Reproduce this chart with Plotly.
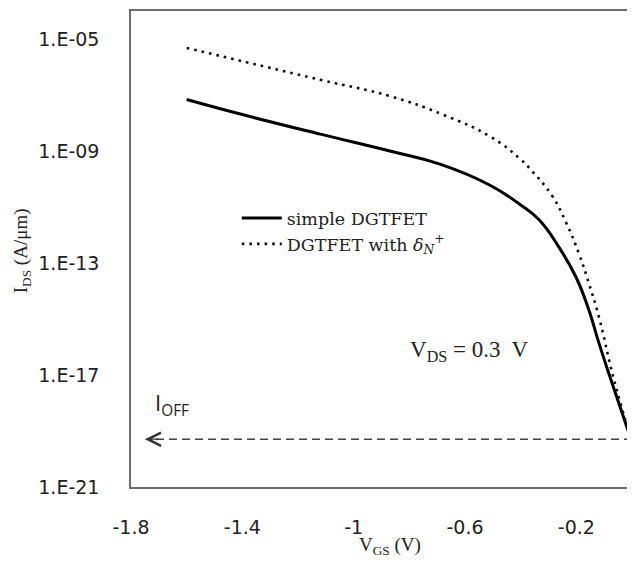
import math
import plotly.graph_objects as go

# ---- data ----
vgs_simple = [-1.6, -1.4, -1.12, -0.87, -0.69, -0.51, -0.406, -0.334, -0.262,
              -0.201, -0.155, -0.119, -0.076, 0.0]
ids_simple = [6.9e-8, 2.0e-8, 4.0e-9, 1.0e-9, 3.4e-10, 6.0e-11, 1.3e-11,
              3.5e-12, 3.6e-13, 3.1e-14, 2.1e-15, 1.4e-16, 6.9e-18, 4.0e-20]

vgs_delta = [-1.6, -1.12, -0.87, -0.68, -0.51, -0.40, -0.359, -0.287, -0.237, -0.191,
             -0.155, -0.119, -0.065, 0.0]
ids_delta = [4.8e-6, 3.5e-7, 9.1e-8, 2.0e-8, 3.3e-9, 5.0e-10, 1.9e-10, 2.5e-11,
             2.8e-12, 2.2e-13, 1.9e-14, 1.2e-15, 6.9e-18, 4.0e-20]

ioff_level = 5.1e-20
ioff_x = [0.0, -1.745]

x_tickvals = [-1.8, -1.4, -1.0, -0.6, -0.2]
x_ticktext = ["-1.8", "-1.4", "-1", "-0.6", "-0.2"]
y_tickvals = [1e-21, 1e-17, 1e-13, 1e-9, 1e-5]
y_ticktext = ["1.E-21", "1.E-17", "1.E-13", "1.E-09", "1.E-05"]

serif = "DejaVu Serif"
serif2 = "Liberation Serif"
sans = "DejaVu Sans"

fig = go.Figure()
fig.add_trace(go.Scatter(
    x=vgs_simple, y=ids_simple, mode="lines", name="simple DGTFET",
    line=dict(color="black", width=3, shape="spline", smoothing=1.3)))
fig.add_trace(go.Scatter(
    x=vgs_delta, y=ids_delta, mode="lines",
    name="DGTFET with <i>δ</i><sub><i>N</i></sub><sup>+</sup>",
    line=dict(color="#111111", width=2.6, dash="2.6px,5px", shape="spline", smoothing=1.3)))
fig.add_trace(go.Scatter(
    x=ioff_x, y=[ioff_level, ioff_level], mode="lines", showlegend=False,
    line=dict(color="#444444", width=1.5, dash="8px,5px")))

ly = math.log10(ioff_level)
fig.add_annotation(x=ioff_x[1] - 0.005, y=ly, ax=ioff_x[1] + 0.05, ay=ly,
                   xref="x", yref="y", axref="x", ayref="y", text="",
                   showarrow=True, arrowhead=5, arrowsize=2.0, arrowwidth=1.3,
                   arrowcolor="#333333", standoff=0)
fig.add_annotation(x=-1.72, y=-18.05, xref="x", yref="y", xanchor="left",
                   yanchor="middle", showarrow=False,
                   text="I<sub>OFF</sub>", font=dict(family="Open Sans", size=22, color="#222"))
fig.add_annotation(x=-0.585, y=-16.15, xref="x", yref="y", showarrow=False,
                   xanchor="center", yanchor="middle",
                   text="V<sub>DS</sub> = 0.3  V",
                   font=dict(family=serif2, size=23, color="#222"))

# axis titles
fig.add_annotation(x=(391 - 131) / 502, y=(487 - 546) / 478, xref="paper", yref="paper",
                   xanchor="center", yanchor="middle",
                   showarrow=False, text="V<sub>GS</sub> (V)",
                   font=dict(family=serif2, size=19, color="#222"))
fig.add_annotation(x=(22 - 131) / 502, y=(487 - 250) / 478, xref="paper", yref="paper",
                   xanchor="center", yanchor="middle",
                   showarrow=False, text="I<sub>DS</sub> (A/μm)", textangle=-90,
                   font=dict(family=serif2, size=19, color="#222"))

# the page adds an 8px body margin; the figure is sized to fit the window
fig.update_layout(
    width=627, height=554,
    margin=dict(l=123, r=2, t=1, b=75),
    paper_bgcolor="white", plot_bgcolor="white",
    showlegend=True,
    legend=dict(x=(237 - 131) / 502, y=(487 - 199) / 478, xanchor="left", yanchor="top",
                bgcolor="rgba(0,0,0,0)", font=dict(family=serif, size=17.5, color="#222"),
                tracegroupgap=0, itemwidth=40),
)
fig.update_xaxes(range=[-1.8, 0], tickvals=x_tickvals, ticktext=x_ticktext,
                 showgrid=False, zeroline=False, showline=True, mirror=True,
                 linecolor="#6e6e6e", linewidth=1.5, ticks="", ticklabelstandoff=22,
                 tickfont=dict(family=sans, size=19, color="#222"))
fig.update_yaxes(type="log", range=[-21, -4], tickvals=y_tickvals, ticktext=y_ticktext,
                 showgrid=False, zeroline=False, showline=True, mirror=True,
                 linecolor="#6e6e6e", linewidth=1.5, ticks="", ticklabelstandoff=26,
                 tickfont=dict(family=sans, size=19, color="#222"))

fig.write_html("out.html")
